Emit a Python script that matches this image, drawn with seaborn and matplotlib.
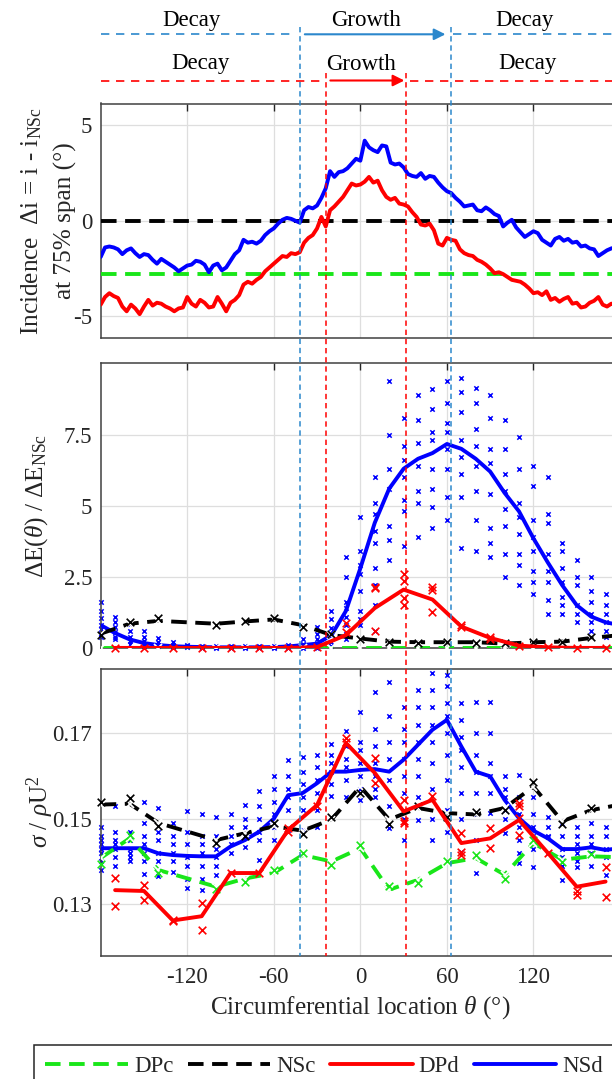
import numpy as np
import pandas as pd
import matplotlib
matplotlib.use("Agg")
import matplotlib.pyplot as plt
import seaborn as sns
from matplotlib.lines import Line2D
from matplotlib.patches import FancyArrowPatch
from matplotlib.transforms import blended_transform_factory

# ---------------------------------------------------------------- data
# Incidence change at 75% span, every 3 degrees
theta_inc = np.arange(-180, 181, 3)
inc_nsd = [
    -1.9, -1.4, -1.35, -1.4, -1.5, -1.75, -1.55, -1.45, -1.7, -1.9,
    -1.75, -1.8, -2.05, -2.25, -2.0, -2.15, -2.3, -2.45, -2.65, -2.5,
    -2.35, -2.3, -2.1, -2.15, -2.3, -2.7, -2.35, -2.25, -2.6, -2.45,
    -2.1, -1.75, -1.55, -1.0, -1.15, -1.1, -1.2, -1.05, -0.75, -0.55,
    -0.4, -0.15, 0.05, 0.15, 0.1, 0.0, -0.1, 0.55, 0.72, 0.65,
    0.8, 1.2, 1.7, 2.6, 2.3, 2.55, 2.6, 2.75, 3.0, 3.25,
    3.15, 4.2, 3.85, 3.7, 3.6, 3.95, 3.9, 3.05, 2.95, 3.0,
    2.8, 2.45, 2.35, 2.3, 2.5, 2.2, 2.35, 2.3, 2.0, 1.75,
    1.55, 1.45, 1.2, 1.0, 0.75, 0.8, 0.85, 0.55, 0.5, 0.7,
    0.55, 0.35, 0.25, -0.3, -0.1, 0.05, -0.35, -0.6, -0.85, -0.7,
    -0.55, -0.65, -1.0, -1.15, -1.3, -0.95, -0.85, -1.05, -0.95, -1.15,
    -1.1, -1.35, -1.3, -1.45, -1.5, -1.85, -1.7, -1.55, -1.45, -1.4,
    -1.55,
]
inc_dpd = [
    -4.4, -4.0, -3.8, -3.95, -4.05, -4.5, -4.75, -4.4, -4.6, -4.9,
    -4.5, -4.15, -4.45, -4.3, -4.35, -4.5, -4.6, -4.75, -4.6, -4.55,
    -4.0, -4.35, -4.5, -4.15, -4.3, -4.55, -4.5, -4.0, -4.35, -4.75,
    -4.3, -4.15, -3.9, -3.35, -3.2, -3.3, -3.1, -2.95, -2.65, -2.45,
    -2.25, -2.05, -1.85, -1.9, -1.7, -1.75, -1.65, -1.15, -0.9, -0.75,
    -0.4, 0.2, -0.3, 0.55, 0.75, 1.0, 1.25, 1.6, 1.95, 1.85,
    1.9, 2.05, 2.3, 2.0, 2.1, 1.6, 1.25, 1.1, 1.2, 0.9,
    0.85, 0.75, 0.45, 0.2, -0.2, -0.25, -0.15, -0.5, -1.2, -1.3,
    -0.9, -1.0, -1.05, -1.5, -1.7, -1.8, -1.85, -2.05, -2.15, -2.3,
    -2.5, -2.75, -2.7, -2.8, -2.95, -3.1, -3.15, -3.2, -3.35, -3.55,
    -3.8, -3.75, -3.9, -3.7, -4.15, -4.05, -4.25, -4.1, -4.0, -4.35,
    -4.3, -4.55, -4.5, -4.3, -4.2, -4.0, -4.4, -4.5, -4.35, -4.4,
    -4.3,
]
inc_nsc = 0.0
inc_dpc = -2.8
inc_span = [-180, 180]

# NSd: mean curves every 10 degrees and the individual samples per station
theta_nsd = np.arange(-180, 181, 10)
energy_nsd = [
    0.8, 0.52, 0.3, 0.17, 0.1, 0.06, 0.04, 0.03, 0.02, 0.02,
    0.02, 0.02, 0.03, 0.05, 0.1, 0.15, 0.45, 1.3, 2.8, 4.4,
    5.6, 6.3, 6.65, 6.85, 7.17, 7.0, 6.65, 6.2, 5.45, 4.8,
    3.85, 3.0, 2.2, 1.5, 1.1, 0.9, 0.8,
]
stress_nsd = [
    0.1431, 0.1431, 0.1431, 0.1431, 0.1419, 0.1415, 0.1413, 0.1412, 0.1412, 0.1435,
    0.1450, 0.1470, 0.1500, 0.1555, 0.1560, 0.1583, 0.1610, 0.1610, 0.1614, 0.1616,
    0.1610, 0.1638, 0.1673, 0.1708, 0.1731, 0.1669, 0.1610, 0.1599, 0.1544, 0.1501,
    0.1472, 0.1454, 0.1429, 0.1429, 0.1433, 0.1427, 0.1431,
]
theta_nsd_samples = np.arange(-180, 171, 10)
energy_nsd_samples = [
    [1.6, 1.3, 1.05, 0.8, 0.65, 0.5, 0.4],
    [1.1, 0.9, 0.75, 0.55, 0.4, 0.3],
    [0.85, 0.6, 0.4, 0.25, 0.15],
    [0.6, 0.4, 0.25, 0.12, 0.05],
    [0.35, 0.2, 0.1, 0.05],
    [0.2, 0.1, 0.05, 0.02],
    [0.1, 0.05, 0.02],
    [0.06, 0.03, 0.0],
    [0.05, 0.02, 0.0],
    [0.05, 0.02, 0.0],
    [0.05, 0.02, 0.0],
    [0.05, 0.02, 0.0],
    [0.06, 0.03, 0.0],
    [0.1, 0.04, 0.0],
    [0.3, 0.15, 0.05, 0.0],
    [0.75, 0.5, 0.3, 0.1, 0.0],
    [1.3, 1.0, 0.7, 0.45, 0.2, 0.05],
    [3.2, 2.5, 1.6, 1.4, 1.1, 0.8, 0.5, 0.3],
    [4.6, 3.4, 2.9, 2.6, 2.0, 1.3, 1.0, 0.8],
    [6.0, 5.1, 4.7, 4.1, 3.7, 2.8, 2.2, 1.5, 0.6],
    [9.4, 7.5, 6.3, 5.6, 4.3, 3.8, 3.1],
    [8.1, 7.1, 6.6, 6.0, 5.2, 4.8, 3.6],
    [8.9, 8.0, 7.2, 6.4, 5.5, 5.1, 3.9],
    [9.1, 8.4, 7.6, 7.3, 6.3, 5.6, 4.95, 4.2],
    [9.4, 8.6, 7.9, 7.6, 7.0, 6.3, 5.3, 4.5],
    [9.5, 9.0, 8.3, 7.3, 6.7, 6.1, 5.3, 3.5],
    [9.15, 8.6, 7.7, 7.1, 6.4, 5.5, 4.5, 3.4],
    [8.9, 8.1, 7.0, 6.5, 5.4, 4.2, 3.7, 3.2],
    [8.0, 7.0, 6.1, 5.5, 4.9, 4.3, 3.3, 2.5],
    [7.4, 6.3, 5.1, 4.6, 4.0, 3.3, 2.9, 2.2],
    [6.4, 5.7, 4.5, 3.9, 3.4, 2.7, 2.3, 1.9],
    [6.0, 4.7, 4.4, 3.3, 2.7, 2.3, 1.7, 1.2],
    [3.7, 3.4, 2.8, 2.3, 1.8, 1.5, 1.2],
    [3.1, 2.5, 2.2, 1.5, 1.2, 0.9],
    [2.5, 2.0, 1.6, 1.2, 0.9, 0.6],
    [1.9, 1.5, 1.2, 0.9, 0.6, 0.4],
]
stress_nsd_samples = [
    [0.148, 0.146, 0.145, 0.144, 0.143, 0.142, 0.140, 0.138],
    [0.153, 0.147, 0.145, 0.144, 0.143, 0.141, 0.139],
    [0.147, 0.146, 0.145, 0.143, 0.142, 0.141, 0.140],
    [0.154, 0.149, 0.146, 0.144, 0.142, 0.140, 0.137],
    [0.1525, 0.147, 0.145, 0.142, 0.140, 0.138, 0.1365],
    [0.149, 0.146, 0.144, 0.142, 0.140, 0.1376],
    [0.1517, 0.147, 0.144, 0.141, 0.139, 0.136, 0.1337],
    [0.151, 0.146, 0.144, 0.142, 0.139, 0.136, 0.1334],
    [0.1505, 0.146, 0.143, 0.141, 0.139, 0.1369],
    [0.151, 0.148, 0.146, 0.144, 0.142],
    [0.1532, 0.150, 0.148, 0.146, 0.1435],
    [0.1564, 0.153, 0.150, 0.147, 0.145, 0.1404],
    [0.160, 0.157, 0.154, 0.151, 0.148, 0.145],
    [0.1638, 0.160, 0.157, 0.155, 0.152, 0.1474],
    [0.1645, 0.161, 0.158, 0.155, 0.152, 0.1474],
    [0.165, 0.162, 0.159, 0.156, 0.152, 0.148],
    [0.1675, 0.165, 0.163, 0.161, 0.158, 0.1552],
    [0.1704, 0.167, 0.164, 0.162, 0.159, 0.155],
    [0.175, 0.168, 0.166, 0.163, 0.160, 0.157, 0.1544],
    [0.1797, 0.171, 0.167, 0.163, 0.160, 0.157, 0.155],
    [0.182, 0.174, 0.168, 0.164, 0.159, 0.153, 0.1478],
    [0.1762, 0.171, 0.168, 0.164, 0.160, 0.156, 0.150, 0.145],
    [0.1801, 0.176, 0.172, 0.168, 0.164, 0.160, 0.155, 0.1497],
    [0.184, 0.180, 0.176, 0.172, 0.168, 0.163, 0.157, 0.150, 0.145],
    [0.1836, 0.181, 0.177, 0.174, 0.170, 0.165, 0.159, 0.152, 0.147],
    [0.177, 0.173, 0.169, 0.166, 0.162, 0.156, 0.150, 0.1423],
    [0.1774, 0.170, 0.165, 0.161, 0.156, 0.151, 0.145, 0.1373],
    [0.1774, 0.170, 0.163, 0.160, 0.156, 0.1513],
    [0.1599, 0.157, 0.155, 0.152, 0.150, 0.1466],
    [0.1603, 0.155, 0.151, 0.148, 0.145, 0.142, 0.1396],
    [0.155, 0.151, 0.148, 0.146, 0.143, 0.1388],
    [0.1505, 0.148, 0.146, 0.1458, 0.142],
    [0.149, 0.146, 0.143, 0.141, 0.139, 0.1357],
    [0.148, 0.146, 0.144, 0.142, 0.140, 0.1388],
    [0.149, 0.146, 0.144, 0.142, 0.139],
    [0.148, 0.146, 0.143, 0.141, 0.1369],
]

# DPd: every 20 degrees
theta_dpd = np.arange(-170, 171, 20)
energy_dpd = [0, 0, 0, 0, 0, 0, 0, 0.03, 0.45, 1.4, 2.05, 1.7, 0.75, 0.35, 0.08, 0.02, 0, 0]
stress_dpd = [0.1333, 0.1331, 0.1262, 0.1272, 0.1373, 0.1373, 0.1474, 0.1532, 0.1677,
              0.1607, 0.1517, 0.1544, 0.1443, 0.1454, 0.1497, 0.1420, 0.1341, 0.1353]
energy_dpd_samples = [
    [0.0], [0.0], [0.0], [0.0], [0.0], [0.0], [0.0], [0.02], [0.86, 0.57],
    [2.15, 2.1, 0.6], [2.6, 2.36, 1.77, 1.5], [2.15, 2.03, 1.25], [0.8, 0.72],
    [0.38, 0.33], [0.08], [0.02], [0.0], [0.0],
]
stress_dpd_samples = [
    [0.1361, 0.1296], [0.1345, 0.1309], [0.1260, 0.1262], [0.1302, 0.1240],
    [0.1373], [0.1373], [0.1470, 0.1478], [0.1529], [0.1688, 0.1680],
    [0.1642, 0.1583], [0.1544, 0.1494, 0.1490], [0.1552], [0.1466, 0.1423, 0.1415],
    [0.1478, 0.1431], [0.1536, 0.1529, 0.1501, 0.1462], [0.1420], [0.1330, 0.1322],
    [0.1318, 0.1388],
]

# Clean cases (NSc, DPc)
theta_clean = [-180, -160, -140, -100, -80, -60, -40, -20, 0, 20, 40, 60, 80, 100, 120, 140, 160, 180]
energy_nsc = [0.5, 0.85, 0.95, 0.85, 0.93, 1.0, 0.8, 0.45, 0.33, 0.22, 0.2, 0.2, 0.2, 0.15, 0.2, 0.22, 0.35, 0.45]
energy_nsc_alt = [0.45, 0.9, 1.05, 0.82, 0.95, 1.05, 0.75, 0.5, 0.3, 0.2, 0.18, 0.22, 0.18, 0.17, 0.22, 0.2, 0.38, 0.5]
energy_dpc = [0, 0, 0, 0, 0, 0, 0, 0, 0, 0, 0, 0, 0, 0, 0, 0, 0, 0]
stress_nsc = [0.1533, 0.1535, 0.1490, 0.1450, 0.1466, 0.1482, 0.1472, 0.1498, 0.1575,
              0.1498, 0.1525, 0.1513, 0.1510, 0.1525, 0.1575, 0.1494, 0.1520, 0.1533]
stress_nsc_alt = [0.1540, 0.1548, 0.1482, 0.1443, 0.1460, 0.1490, 0.1465, 0.1505, 0.1560,
                  0.1488, 0.1530, 0.1505, 0.1515, 0.1520, 0.1585, 0.1488, 0.1525, 0.1540]
stress_dpc = [0.1408, 0.1454, 0.1380, 0.1341, 0.1360, 0.1373, 0.1415, 0.1400, 0.1431,
              0.1334, 0.1357, 0.1396, 0.1408, 0.1369, 0.1443, 0.1404, 0.1412, 0.1410]
stress_dpc_alt = [0.1395, 0.1462, 0.1372, 0.1335, 0.1352, 0.1380, 0.1420, 0.1392, 0.1438,
                  0.1342, 0.1350, 0.1402, 0.1414, 0.1360, 0.1450, 0.1398, 0.1418, 0.1404]

# Growth-region boundaries (degrees)
nsd_bounds = [-42, 63]
dpd_bounds = [-23.5, 31.5]
region_labels = ["Decay", "Growth", "Decay"]
series_names = ["DPc", "NSc", "DPd", "NSd"]

# ---------------------------------------------------------------- style
sns.set_style("white")
plt.rcParams["font.family"] = ["Liberation Serif", "DejaVu Serif"]
plt.rcParams["mathtext.fontset"] = "custom"
plt.rcParams["mathtext.rm"] = "Liberation Serif"
plt.rcParams["mathtext.it"] = "Liberation Serif:italic"
plt.rcParams["mathtext.bf"] = "Liberation Serif:bold"
plt.rcParams["axes.unicode_minus"] = False

GREEN = "#19e619"
BLACK = "#000000"
RED = "#ff0000"
BLUE = "#0000ff"
DIV_BLUE = "#2b87cc"
FS = 16.5          # tick / annotation / legend text
FS_LAB = 18.2      # axis labels
LW = 2.8
DASH = (0, (4, 2.2))

W, H = 612, 1079
fig = plt.figure(figsize=(W / 100, H / 100), dpi=100)


def frame(top, bottom, left=100.7, right=620.0):
    return [left / W, 1 - bottom / H, (right - left) / W, (bottom - top) / H]


ax1 = fig.add_axes(frame(103.5, 338.0))
ax2 = fig.add_axes(frame(363.5, 647.9))
ax3 = fig.add_axes(frame(669.0, 956.0))

for ax in (ax1, ax2, ax3):
    ax.set_xlim(-180, 180)
    ax.set_xticks([-120, -60, 0, 60, 120])
    ax.grid(True, color="#dedede", lw=0.9)
    ax.set_axisbelow(True)
    ax.tick_params(direction="in", length=5, width=1.0, top=True, right=True,
                   labelsize=FS, colors="#262626", pad=6)
    for sp in ax.spines.values():
        sp.set_color("#404040")
        sp.set_linewidth(1.1)
ax1.tick_params(labelbottom=False)
ax2.tick_params(labelbottom=False)
ax3.tick_params(axis="x", pad=8)


def long_frame(thetas, samples):
    rows = [(t, v) for t, vals in zip(thetas, samples) for v in vals]
    return pd.DataFrame(rows, columns=["theta", "value"])


def line(ax, x, y, color, ls="-", marker=None, ms=6, z=3):
    sns.lineplot(x=np.asarray(x, float), y=np.asarray(y, float), ax=ax, color=color,
                 lw=LW, linestyle=ls, marker=marker, markersize=ms, mew=1.3,
                 estimator=None, sort=False, zorder=z, legend=False)


def pts(ax, df, color, s, lw, z=2):
    sns.scatterplot(data=df, x="theta", y="value", ax=ax, marker="x", s=s,
                    color=color, linewidth=lw, zorder=z, legend=False, clip_on=False)


# ---------------------------------------------------------------- panel 1
line(ax1, inc_span, [inc_dpc, inc_dpc], GREEN, ls=DASH)
line(ax1, inc_span, [inc_nsc, inc_nsc], BLACK, ls=DASH)
line(ax1, theta_inc, inc_dpd, RED)
line(ax1, theta_inc, inc_nsd, BLUE)
ax1.set_ylim(-6.15, 6.15)
ax1.set_yticks([-5, 0, 5])
ax1.set_yticklabels(["-5", "0", "5"])

# ---------------------------------------------------------------- panel 2
pts(ax2, long_frame(theta_nsd_samples, energy_nsd_samples), BLUE, 10, 1.1)
line(ax2, theta_nsd, energy_nsd, BLUE)
line(ax2, theta_clean, energy_dpc, GREEN, ls=DASH, marker="x", z=4)
line(ax2, theta_clean, energy_nsc, BLACK, ls=DASH, marker="x", z=4)
pts(ax2, pd.DataFrame({"theta": theta_clean, "value": energy_nsc_alt}), BLACK, 30, 1.2, z=4)
pts(ax2, long_frame(theta_dpd, energy_dpd_samples), RED, 30, 1.2, z=5)
line(ax2, theta_dpd, energy_dpd, RED, z=5)
ax2.set_ylim(0, 10)
ax2.set_yticks([0, 2.5, 5, 7.5])
ax2.set_yticklabels(["0", "2.5", "5", "7.5"])

# ---------------------------------------------------------------- panel 3
pts(ax3, long_frame(theta_nsd_samples, stress_nsd_samples), BLUE, 10, 1.1)
line(ax3, theta_nsd, stress_nsd, BLUE)
line(ax3, theta_clean, stress_dpc, GREEN, ls=DASH, marker="x", z=4)
pts(ax3, pd.DataFrame({"theta": theta_clean, "value": stress_dpc_alt}), GREEN, 30, 1.2, z=4)
line(ax3, theta_clean, stress_nsc, BLACK, ls=DASH, marker="x", z=4)
pts(ax3, pd.DataFrame({"theta": theta_clean, "value": stress_nsc_alt}), BLACK, 30, 1.2, z=4)
pts(ax3, long_frame(theta_dpd, stress_dpd_samples), RED, 30, 1.2, z=5)
line(ax3, theta_dpd, stress_dpd, RED, z=5)
ax3.set_ylim(0.1179, 0.1850)
ax3.set_yticks([0.13, 0.15, 0.17])
ax3.set_yticklabels(["0.13", "0.15", "0.17"])

for ax in (ax1, ax2, ax3):
    ax.set_xlabel("")
    ax.set_ylabel("")
ax3.set_xticklabels(["-120", "-60", "0", "60", "120"])

# ---------------------------------------------------------------- labels
TXT = "#262626"


def fy(px):
    return 1 - px / H


fig.text(32 / W, fy(221), r"Incidence  $\Delta$i = i - i$_{\mathrm{NSc}}$",
         rotation=90, ha="center", va="center", fontsize=FS_LAB, color=TXT)
fig.text(65 / W, fy(221), "at 75% span (°)", rotation=90, ha="center", va="center",
         fontsize=FS_LAB, color=TXT)
fig.text(37 / W, fy(506), r"$\Delta$E($\theta$) / $\Delta$E$_{\mathrm{NSc}}$",
         rotation=90, ha="center", va="center", fontsize=FS_LAB, color=TXT)
fig.text(40 / W, fy(812), r"$\sigma$ / $\rho$U$^{2}$", rotation=90, ha="center",
         va="center", fontsize=FS_LAB, color=TXT)
fig.text(360 / W, fy(1008), r"Circumferential location $\theta$ (°)", ha="center",
         va="center", fontsize=FS_LAB, color=TXT)

# ---------------------------------------------------------------- growth/decay bands
blend = blended_transform_factory(ax1.transData, fig.transFigure)
THIN = (0, (5, 4))


def hseg(x0, x1, ypx, color):
    fig.add_artist(Line2D([x0, x1], [fy(ypx)] * 2, transform=blend, color=color,
                          lw=1.2, linestyle=THIN, zorder=5))


def arrow(x0, x1, ypx, color):
    fig.add_artist(FancyArrowPatch((x0, fy(ypx)), (x1, fy(ypx)), transform=blend,
                                   arrowstyle="-|>", mutation_scale=17, lw=1.5,
                                   color=color, shrinkA=0, shrinkB=0, zorder=5))


# NSd row
hseg(-180, nsd_bounds[0] - 4.5, 34.3, DIV_BLUE)
arrow(nsd_bounds[0] + 3.5, nsd_bounds[1] - 4.0, 34.3, DIV_BLUE)
hseg(nsd_bounds[1] + 1.5, 180, 34.3, DIV_BLUE)
for xc, lab in zip([-117, 4, 114], region_labels):
    ax1.text(xc, fy(20.5), lab, transform=blend, ha="center", va="center",
             fontsize=FS, color=BLACK, clip_on=False)

# DPd row
hseg(-180, dpd_bounds[0] - 4.0, 80.5, RED)
arrow(dpd_bounds[0] + 2.7, dpd_bounds[1] - 1.0, 80.5, RED)
hseg(dpd_bounds[1] + 3.0, 180, 80.5, RED)
for xc, lab, ypx in zip([-111, 0.7, 115.6], region_labels, [63.5, 65, 63.5]):
    ax1.text(xc, fy(ypx), lab, transform=blend, ha="center", va="center",
             fontsize=FS, color=BLACK, clip_on=False)

# vertical boundaries through all panels
for xb in nsd_bounds:
    fig.add_artist(Line2D([xb, xb], [fy(26.7), fy(956)], transform=blend,
                          color=DIV_BLUE, lw=1.1, linestyle=(0, (3.5, 2.5)), zorder=6))
for xb in dpd_bounds:
    fig.add_artist(Line2D([xb, xb], [fy(72.7), fy(956)], transform=blend,
                          color=RED, lw=1.1, linestyle=(0, (3.5, 2.5)), zorder=6))

# ---------------------------------------------------------------- legend
handles = [
    Line2D([], [], color=GREEN, lw=LW, linestyle=DASH),
    Line2D([], [], color=BLACK, lw=LW, linestyle=DASH),
    Line2D([], [], color=RED, lw=LW),
    Line2D([], [], color=BLUE, lw=LW),
]
leg = fig.legend(handles, series_names, loc="upper left",
                 bbox_to_anchor=(34 / W, fy(1045)), ncol=4, frameon=True,
                 fancybox=False, edgecolor="#262626", framealpha=1, fontsize=FS,
                 handlelength=3.6, handletextpad=0.27, columnspacing=0.62,
                 borderpad=0.5, borderaxespad=0)
leg.get_frame().set_linewidth(1.1)

fig.savefig("out.png", dpi=100)
